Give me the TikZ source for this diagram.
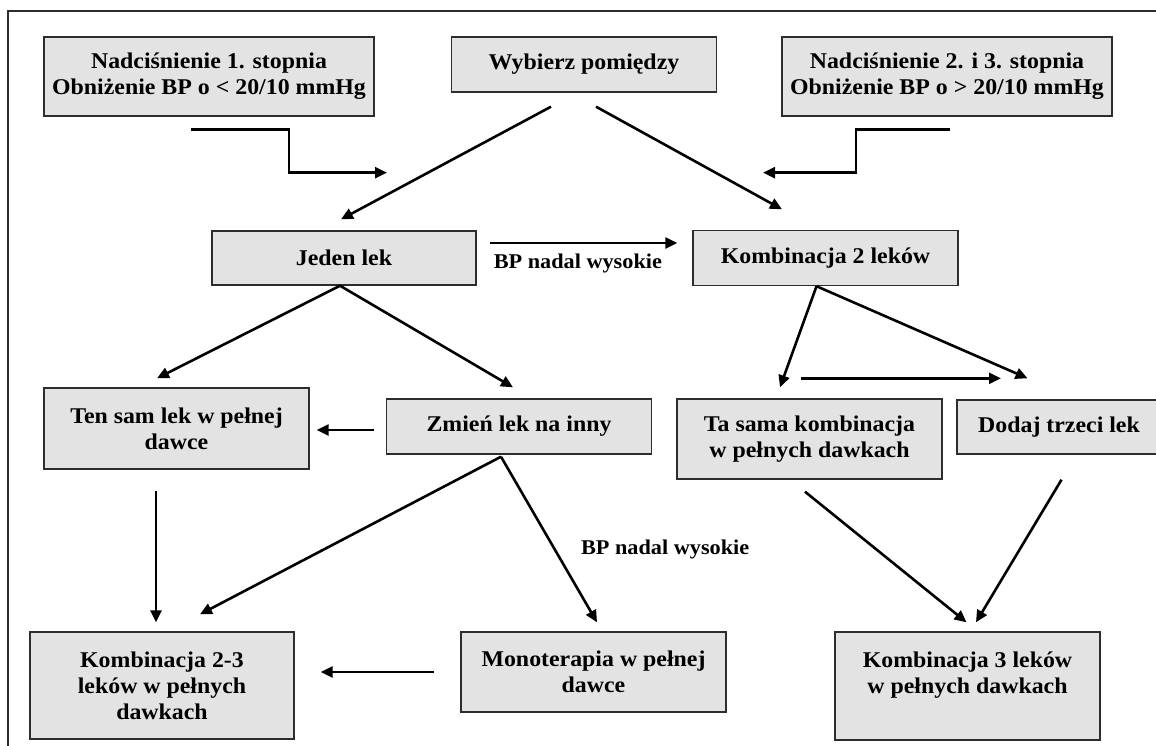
\documentclass[tikz,border=0pt]{standalone}
\usepackage{fontspec}
\setmainfont{Liberation Serif}[FakeStretch=1.06]
\usepackage{tikz}
\usetikzlibrary{arrows.meta,positioning,calc}
\usepackage{xcolor}
\definecolor{boxfill}{RGB}{227,227,227}
\definecolor{boxline}{RGB}{45,45,45}

\begin{document}
\begin{tikzpicture}[x=1pt,y=-1pt,font=\fontsize{22.5}{26}\selectfont\bfseries,
  box/.style={draw=boxline,line width=1.4pt,fill=boxfill,align=center,inner sep=0pt,minimum width=265pt,minimum height=55pt},
  arr/.style={line width=2.6pt,-{Triangle[length=12pt,width=11pt]}},
  lbl/.style={font=\fontsize{21}{24}\selectfont\bfseries,inner sep=2pt}]
\useasboundingbox (0,0) rectangle (1156,746);
\draw[line width=1.4pt,boxline] (8,746) |- (1156,11);
\node[box,minimum width=330pt,minimum height=79pt] (nad1) at (209,76.5) {Nadciśnienie 1. stopnia\\Obniżenie BP o < 20/10 mmHg};
\node[box] (wyb) at (584,64.5) {Wybierz pomiędzy};
\node[box,minimum width=330pt,minimum height=79pt] (nad2) at (947,76.5) {Nadciśnienie 2. i 3. stopnia\\Obniżenie BP o > 20/10 mmHg};
\node[box,minimum width=264pt,minimum height=54pt] (jeden) at (344,258) {Jeden lek};
\node[box] (komb2) at (825.5,258) {Kombinacja 2 leków};
\node[box,minimum height=81pt] (tensam) at (176.5,428.5) {Ten sam lek w pełnej\\dawce};
\node[box] (zmien) at (519,426.5) {Zmień lek na inny};
\node[box,minimum height=80pt] (tasama) at (809.5,439) {Ta sama kombinacja\\w pełnych dawkach};
\node[box,minimum width=204pt,minimum height=54pt] (dodaj) at (1059,427) {Dodaj trzeci lek};
\node[box,minimum width=264pt,minimum height=107pt] (komb23) at (162,685.5) {Kombinacja 2-3\\leków w pełnych\\dawkach};
\node[box,minimum height=80pt] (mono) at (593.5,672) {Monoterapia w pełnej\\dawce};
\node[box,minimum height=108pt] (komb3) at (967.5,686) {Kombinacja 3 leków\\w pełnych dawkach\\\mbox{}};
% top
\draw[arr] ($(nad1.south)+(-18,13)$) -- ++(98,0) -- ++(0,43) -- ++(98,0);
\draw[arr] ($(nad2.south)+(3,13)$) -- ++(-94,0) -- ++(0,43) -- ++(-93,0);
\draw[arr] ($(wyb.south)+(-33,14)$) -- ($(jeden.north)+(-3,-11)$);
\draw[arr] ($(wyb.south)+(12,14)$) -- ($(komb2.north)+(-43.5,-20.5)$);
\draw[arr] ($(jeden.east)+(13,-15)$) -- ($(komb2.west)+(-15,-15)$) node[lbl,pos=0.47,below=8pt]{BP nadal wysokie};
% left branch
\draw[arr] ($(jeden.south)+(-4,0)$) -- ($(tensam.north)+(-19.5,-9)$);
\draw[arr] ($(jeden.south)+(-4,0)$) -- ($(zmien.north)+(-6,-11)$);
\draw[arr] ($(zmien.west)+(-11.5,3.5)$) -- ($(tensam.east)+(7,1.5)$);
\draw[arr] ($(tensam.south)+(-20.5,21)$) -- ($(komb23.north)+(-6,-9)$);
\draw[arr] ($(zmien.south)+(-18,2)$) -- ($(komb23.north)+(38,-17)$);
\draw[arr] ($(zmien.south)+(-18,2)$) -- ($(mono.north)+(3.5,-9)$) node[lbl,pos=0.56,right=23pt]{BP nadal wysokie};
\draw[arr] ($(mono.west)+(-26,0)$) -- ($(komb23.east)+(26,-13.5)$);
% right branch
\draw[arr] ($(komb2.south)+(-9,0)$) -- ($(tasama.north)+(-29.5,-11)$);
\draw[arr] ($(komb2.south)+(-9,0)$) -- ($(dodaj.north)+(-31.5,-21)$);
\draw[arr] ($(tasama.north)+(-8.5,-20)$) -- ($(dodaj.north)+(-58,-21)$);
\draw[arr] ($(tasama.south)+(-4.5,12)$) -- ($(komb3.north)+(-1,-9)$);
\draw[arr] ($(dodaj.south)+(2.5,25)$) -- ($(komb3.north)+(8.5,-9)$);
\end{tikzpicture}
\end{document}
